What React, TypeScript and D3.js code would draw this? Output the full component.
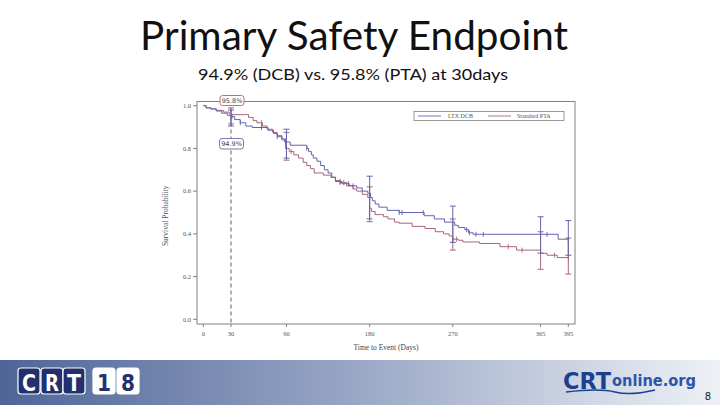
import React from "react";
import * as d3 from "d3";

// ---- Data ----
const dcbDays = [0, 3, 8, 14, 20, 26, 30, 34, 40, 46, 53, 70, 76, 80, 85, 88, 94, 112, 114, 117, 119, 123, 127, 131, 135, 139, 143, 150, 158, 166, 172, 178, 181, 183, 186, 190, 199, 212, 239, 250, 261, 272, 276, 283, 287, 292, 384];
const dcbSurv = [1.0, 0.99, 0.985, 0.975, 0.965, 0.955, 0.949, 0.935, 0.92, 0.905, 0.898, 0.885, 0.87, 0.855, 0.84, 0.83, 0.815, 0.8, 0.785, 0.77, 0.755, 0.74, 0.72, 0.7, 0.685, 0.665, 0.645, 0.635, 0.625, 0.615, 0.6, 0.59, 0.57, 0.555, 0.54, 0.525, 0.51, 0.5, 0.485, 0.47, 0.455, 0.44, 0.43, 0.42, 0.405, 0.398, 0.375];
const ptaDays = [0, 3, 8, 14, 22, 28, 30, 49, 54, 58, 64, 69, 75, 80, 85, 89, 93, 98, 103, 108, 112, 116, 120, 130, 138, 143, 148, 155, 162, 166, 172, 178, 180, 182, 186, 195, 200, 207, 212, 226, 240, 251, 260, 266, 270, 276, 281, 299, 321, 339, 365, 372, 383];
const ptaSurv = [1.0, 0.99, 0.985, 0.978, 0.97, 0.962, 0.958, 0.945, 0.93, 0.92, 0.905, 0.89, 0.875, 0.86, 0.845, 0.8, 0.785, 0.77, 0.755, 0.735, 0.72, 0.705, 0.685, 0.675, 0.665, 0.65, 0.64, 0.625, 0.61, 0.6, 0.585, 0.57, 0.52, 0.505, 0.49, 0.48, 0.47, 0.455, 0.45, 0.435, 0.425, 0.41, 0.4, 0.39, 0.375, 0.37, 0.362, 0.355, 0.34, 0.324, 0.309, 0.3, 0.289];
const lastDay = 395;

const dcbCensor = [31, 40, 63, 80, 112, 148, 157, 162, 212, 215, 238, 285, 288, 295, 303, 365, 372, 395];
const ptaCensor = [63, 95, 148, 152, 270, 274, 330, 345, 380, 395];

const ciDays = [30, 90, 180, 270, 365, 395];
const dcbLo = [0.905, 0.755, 0.47, 0.36, 0.31, 0.3];
const dcbHi = [0.98, 0.89, 0.67, 0.53, 0.48, 0.462];
const ptaLo = [0.915, 0.745, 0.457, 0.324, 0.234, 0.212];
const ptaHi = [0.99, 0.875, 0.62, 0.47, 0.41, 0.38];

const xTicks = [0, 30, 90, 180, 270, 365, 395];
const yTicks = [0, 0.2, 0.4, 0.6, 0.8, 1.0];

const BLUE = "#6363ad";
const RED = "#a8667a";

function stepValue(days: number[], surv: number[], t: number) {
  let v = surv[0];
  for (let i = 0; i < days.length; i++) if (days[i] <= t) v = surv[i];
  return v;
}

export default function App() {
  const x = d3.scaleLinear().domain([0, 395]).range([203.3, 568.3]);
  const y = d3.scaleLinear().domain([0, 1]).range([319.3, 105.7]);
  const frame = { l: 197, t: 101.5, r: 575, b: 324 };

  const line = d3
    .line<[number, number]>()
    .x((d) => x(d[0]))
    .y((d) => y(d[1]))
    .curve(d3.curveStepAfter);

  const dcbPts: [number, number][] = dcbDays.map((d, i) => [d, dcbSurv[i]]);
  dcbPts.push([lastDay, dcbSurv[dcbSurv.length - 1]]);
  const ptaPts: [number, number][] = ptaDays.map((d, i) => [d, ptaSurv[i]]);
  ptaPts.push([lastDay, ptaSurv[ptaSurv.length - 1]]);

  const serif = "'Liberation Serif', 'DejaVu Serif', serif";
  const sans = "Lato, 'Open Sans', 'Noto Sans', sans-serif";

  const ciBars = (lo: number[], hi: number[], color: string, key: string) =>
    ciDays.map((d, i) => (
      <g key={key + i} stroke={color} strokeWidth={1} fill="none">
        <line x1={x(d)} x2={x(d)} y1={y(lo[i])} y2={y(hi[i])} />
        <line x1={x(d) - 3} x2={x(d) + 3} y1={y(lo[i])} y2={y(lo[i])} />
        <line x1={x(d) - 3} x2={x(d) + 3} y1={y(hi[i])} y2={y(hi[i])} />
      </g>
    ));

  const censor = (days: number[], sd: number[], ss: number[], color: string, key: string) =>
    days.map((d, i) => {
      const v = stepValue(sd, ss, d);
      return (
        <line key={key + i} x1={x(d)} x2={x(d)} y1={y(v) - 2.5} y2={y(v) + 2.5} stroke={color} strokeWidth={0.9} />
      );
    });

  return (
    <svg width={720} height={405} style={{ position: "absolute", left: 0, top: 0 }} xmlns="http://www.w3.org/2000/svg">
      <defs>
        <linearGradient id="band" x1="0" x2="1" y1="0" y2="0">
          <stop offset="0" stopColor="#4f6598" />
          <stop offset="0.5" stopColor="#9aa8c6" />
          <stop offset="1" stopColor="#eef1f6" />
        </linearGradient>
      </defs>
      <rect x={0} y={0} width={720} height={405} fill="#ffffff" />

      {/* Title */}
      <text x={354} y={50} textAnchor="middle" fontFamily={sans} fontSize={40} fill="#111" textLength={428} lengthAdjust="spacingAndGlyphs">
        Primary Safety Endpoint
      </text>
      <text x={353} y={80} textAnchor="middle" fontFamily={sans} fontSize={16} fill="#111" textLength={310} lengthAdjust="spacingAndGlyphs">
        94.9% (DCB) vs. 95.8% (PTA) at 30days
      </text>

      {/* Plot frame */}
      <rect x={frame.l} y={frame.t} width={frame.r - frame.l} height={frame.b - frame.t} fill="none" stroke="#808080" strokeWidth={1} />

      {/* Y axis ticks */}
      {yTicks.map((t) => (
        <g key={"yt" + t}>
          <line x1={frame.l - 4} x2={frame.l} y1={y(t)} y2={y(t)} stroke="#808080" strokeWidth={1} />
          <text x={frame.l - 6} y={y(t) + 2.3} textAnchor="end" fontFamily={serif} fontSize={6.5} fill="#555">
            {t.toFixed(1)}
          </text>
        </g>
      ))}
      {/* X axis ticks */}
      {xTicks.map((t) => (
        <g key={"xt" + t}>
          <line x1={x(t)} x2={x(t)} y1={frame.b} y2={frame.b + 3} stroke="#808080" strokeWidth={1} />
          <text x={x(t)} y={frame.b + 12} textAnchor="middle" fontFamily={serif} fontSize={6.5} fill="#555">
            {t}
          </text>
        </g>
      ))}
      <text x={(frame.l + frame.r) / 2} y={350} textAnchor="middle" fontFamily={serif} fontSize={7.5} fill="#444">
        Time to Event (Days)
      </text>
      <text transform={`translate(168, ${(frame.t + frame.b) / 2 + 3}) rotate(-90)`} textAnchor="middle" fontFamily={serif} fontSize={7.5} fill="#555">
        Survival Probability
      </text>

      {/* Dashed reference line at 30 days */}
      <line x1={x(30)} x2={x(30)} y1={frame.t} y2={frame.b} stroke="#7a7a7a" strokeWidth={1.2} strokeDasharray="4,3" />

      {/* Curves */}
      <path d={line(ptaPts) || ""} fill="none" stroke={RED} strokeWidth={1} />
      <path d={line(dcbPts) || ""} fill="none" stroke={BLUE} strokeWidth={1} />
      {censor(ptaCensor, ptaDays, ptaSurv, RED, "pc")}
      {censor(dcbCensor, dcbDays, dcbSurv, BLUE, "dc")}
      {ciBars(ptaLo, ptaHi, RED, "pci")}
      {ciBars(dcbLo, dcbHi, BLUE, "dci")}

      {/* Value labels */}
      <rect x={220} y={95.5} width={24} height={10} rx={2.5} fill="#fff" stroke="#b06070" strokeWidth={0.9} />
      <text x={232} y={103} textAnchor="middle" fontFamily="'DejaVu Sans', sans-serif" fontSize={6.5} fill="#444">95.8%</text>
      <rect x={219.5} y={138.5} width={24} height={10.5} rx={2.5} fill="#fff" stroke="#6a6aa8" strokeWidth={0.9} />
      <text x={231.5} y={146.3} textAnchor="middle" fontFamily="'DejaVu Sans', sans-serif" fontSize={6.5} fill="#444">94.9%</text>

      {/* Legend */}
      <rect x={414} y={111.5} width={150} height={9} fill="#fff" stroke="#808080" strokeWidth={0.8} />
      <line x1={418} x2={441} y1={116} y2={116} stroke={BLUE} strokeWidth={0.9} />
      <text x={448} y={118.3} fontFamily={serif} fontSize={6} fill="#555">LTX DCB</text>
      <line x1={488} x2={511} y1={116} y2={116} stroke={RED} strokeWidth={0.9} />
      <text x={517} y={118.3} fontFamily={serif} fontSize={6} fill="#555">Standard PTA</text>

      {/* Footer band */}
      <rect x={0} y={360} width={720} height={45} fill="url(#band)" />
      {["C", "R", "T", "1", "8"].map((c, i) => {
        const xs = [18, 41, 63, 93, 117][i];
        const dark = i < 3;
        return (
          <g key={"logo" + i}>
            <rect x={xs} y={368} width={22} height={26} rx={3} fill={dark ? "#22306e" : "#ffffff"} stroke="#ffffff" strokeWidth={1.2} />
            <text x={xs + 11} y={390.5} textAnchor="middle" fontFamily="'DejaVu Sans Condensed', 'DejaVu Sans', sans-serif" fontWeight="bold" fontSize={23} fill={dark ? "#ffffff" : "#22306e"} textLength={14} lengthAdjust="spacingAndGlyphs">
              {c}
            </text>
          </g>
        );
      })}
      <text x={563} y={389} fontFamily="'DejaVu Sans', sans-serif" fontWeight="bold" fontSize={23} fill="#1d3f8f" textLength={48} lengthAdjust="spacingAndGlyphs">CRT</text>
      <text x={612} y={386} fontFamily="'DejaVu Sans', sans-serif" fontWeight="bold" fontSize={15} fill="#2c55a8" textLength={84} lengthAdjust="spacingAndGlyphs">online.org</text>
      <path d="M566,392 Q600,388 615,392 T655,390" fill="none" stroke="#1d3f8f" strokeWidth={1.5} />
      <text x={708} y={400} textAnchor="middle" fontFamily="'DejaVu Sans', sans-serif" fontSize={10} fill="#222">8</text>
    </svg>
  );
}
